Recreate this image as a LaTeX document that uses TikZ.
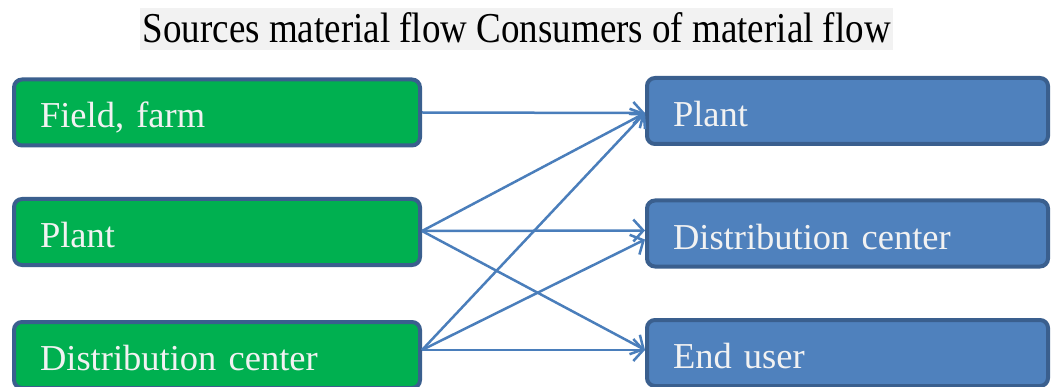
\documentclass[tikz,border=0pt]{standalone}
\usepackage{fontspec}
\setmainfont{Liberation Serif}
\usetikzlibrary{arrows.meta,calc}
\definecolor{grn}{HTML}{00B050}
\definecolor{blu}{HTML}{4F81BD}
\definecolor{bord}{HTML}{3A5F8E}
\definecolor{arr}{HTML}{4A7EBB}
\definecolor{txt}{HTML}{F2F2F2}
\definecolor{titlebg}{HTML}{F2F2F2}
\begin{document}
\begin{tikzpicture}[x=1pt,y=-1pt,
  box/.style={draw=bord, line width=4pt, rounded corners=8pt, minimum height=66pt,
    text=txt, font=\fontsize{36.5}{40}\selectfont, align=left, inner xsep=26pt, inner ysep=0pt,
    text height=31pt, text depth=0pt},
  lbox/.style={box, fill=grn, text width=354pt},
  rbox/.style={box, fill=blu, text width=349pt},
  conn/.style={draw=arr, line width=2.5pt, -{Straight Barb[length=10pt,width=22pt,line width=2.5pt]}},
  titlenode/.style={fill=titlebg, inner xsep=2.5pt, inner ysep=0pt, text height=35pt, text depth=7pt,
    font=\fontsize{37}{40}\selectfont, anchor=base west}
]
\useasboundingbox (0,0) rectangle (1051,387);
\node[titlenode] (title) at (140,43) {\scalebox{1}[1.15]{Sources material flow Consumers of material flow}};
\node[lbox] (lFF) at (217,112.5) {Field, farm};
\node[lbox] (lP)  at (217,232) {Plant};
\node[lbox] (lDC) at (217,355) {Distribution center};
\node[rbox] (rP)  at (847.5,111) {Plant};
\node[rbox] (rDC) at (847.5,233.5) {Distribution center};
\node[rbox] (rEU) at (847.5,353) {End user};
\coordinate (sDC) at ($(lDC.east)+(0,-5)$);
\coordinate (sP) at ($(lP.east)+(0,-1)$);
\coordinate (tP) at ($(rP.west)+(0,2)$);
\coordinate (tDC1) at ($(rDC.west)+(0,-3)$);
\coordinate (tDC2) at ($(rDC.west)+(0,6)$);
\coordinate (tEU) at ($(rEU.west)+(0,-3)$);
\draw[conn] (lFF.east) -- (tP);
\draw[conn] (sP) -- (tP);
\draw[conn] (sP) -- (tDC1);
\draw[conn] (sP) -- (tEU);
\draw[conn] (sDC) -- (tP);
\draw[conn] (sDC) -- (tDC2);
\draw[conn] (sDC) -- (tEU);
\end{tikzpicture}
\end{document}
